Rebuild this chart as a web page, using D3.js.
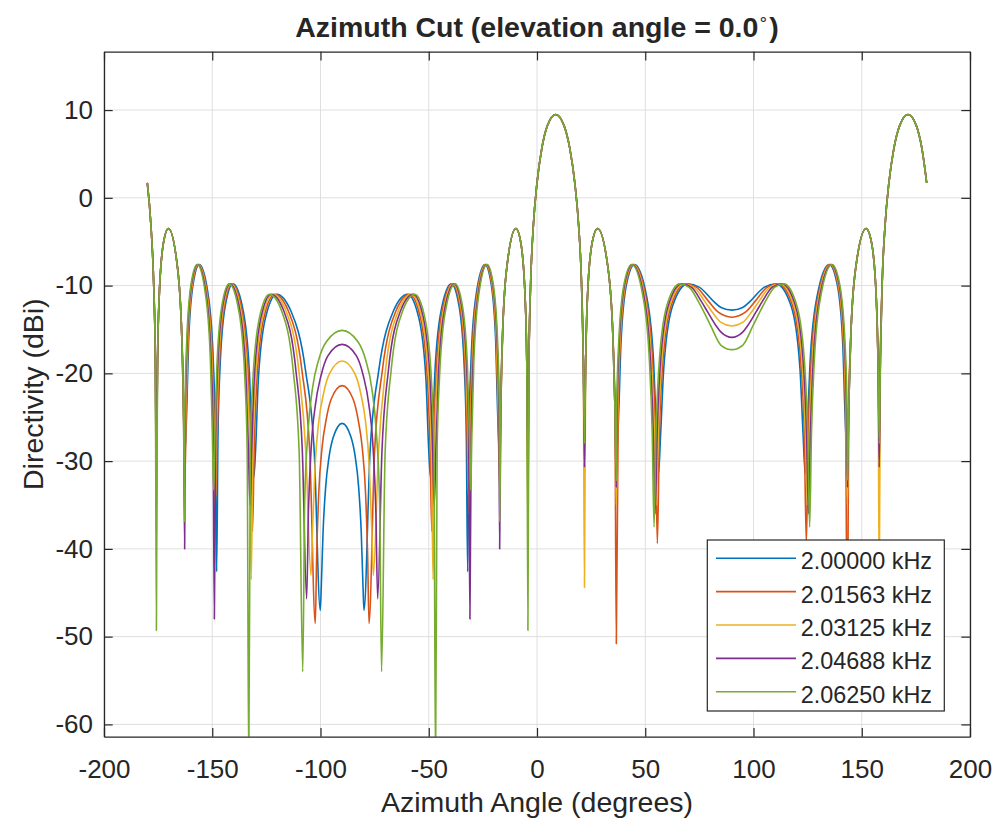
<!DOCTYPE html>
<html>
<head>
<meta charset="utf-8">
<script src="https://cdn.jsdelivr.net/npm/d3@7"></script>
<style>
  body { margin: 0; background: #fff; }
  svg { display: block; }
  text { font-family: "Liberation Sans", Arial, Helvetica, sans-serif; fill: #262626; }
</style>
</head>
<body>
<svg id="chart" width="996" height="822"></svg>
<script>
// ---------------- data ----------------
const frequencies = ["2.00000 kHz", "2.01563 kHz", "2.03125 kHz", "2.04688 kHz", "2.06250 kHz"];
const seriesColors = ["#0072BD", "#D95319", "#EDB120", "#7E2F8E", "#77AC30"];

const xTicks = [-200, -150, -100, -50, 0, 50, 100, 150, 200];
const yTicks = [-60, -50, -40, -30, -20, -10, 0, 10];

// [azimuth deg, directivity dBi] where all five frequencies coincide
const sharedPoints = [
  [-180, 1.7], [-178.36, -3.0], [-177.08, -9.6], [-176.31, -18.0], [-175.28, -18.7], [-174.51, -11.3],
  [-172.58, -5.2], [-170.25, -3.5], [-166.07, -7.9], [-164.08, -15.7], [-163.28, -23.8],
  [-16.72, -23.8], [-15.92, -15.7], [-13.93, -7.9], [-9.75, -3.5], [-7.42, -5.2], [-5.49, -11.3],
  [-4.72, -18.7], [-3.69, -18.0], [-2.92, -9.6], [-1.64, -3.0], [0, 1.7], [2.20, 5.6], [4.76, 8.2],
  [8.63, 9.5], [12.53, 8.2], [15.17, 5.6], [17.46, 1.7], [19.19, -3.0], [20.55, -9.6], [21.37, -18.0],
  [22.47, -18.7], [23.31, -11.3], [25.41, -5.2], [27.99, -3.5], [32.74, -7.9], [35.05, -15.7], [35.99, -23.8],
  [144.01, -23.8], [144.95, -15.7], [147.26, -7.9], [152.01, -3.5], [154.59, -5.2], [156.69, -11.3],
  [157.53, -18.7], [158.63, -18.0], [159.45, -9.6], [160.81, -3.0], [162.54, 1.7], [164.83, 5.6],
  [167.47, 8.2], [171.37, 9.5], [175.24, 8.2], [177.80, 5.6], [180, 1.7]
];

// shared null positions, with each frequency's own null depth
const sharedNullAz = [-175.80, -162.75, -17.25, -4.20, 21.92, 36.63, 143.37, 158.08];
const nullDepth2000 = [-35, -29.6, -29.6, -35, -27, -30, -30, -27];
const nullDepth2016 = [-32, -33, -33, -32, -25, -50.8, -50.8, -25];
const nullDepth2031 = [-38, -31, -31, -38, -44.4, -35, -35, -44.4];
const nullDepth2047 = [-30, -40, -40, -30, -30.7, -33, -33, -30.7];
const nullDepth2063 = [-49.3, -36.9, -36.9, -49.3, -28, -32.2, -32.2, -28];

// per-frequency points between -163 and -17 deg
const left2000 = [[-161.78,-24.2],[-160.96,-16.6],[-158.88,-9.9],[-155.93,-7.6],[-151.73,-11.3],[-149.49,-18.8],[-148.58,-26.8],[-147.97,-42.6],[-147.35,-27.1],[-146.42,-19.4],[-144.05,-12.4],[-140.43,-9.8],[-135.53,-13.1],[-132.73,-20.5],[-131.57,-28.4],[-130.78,-31.8],[-129.98,-28.7],[-128.75,-20.9],[-125.52,-13.8],[-120.25,-11.0],[-113.67,-12.9],[-106.90,-19.7],[-102.86,-29.1],[-100.1,-47.0],[-99.6,-44.0],[-98.8,-38.0],[-97.6,-32.9],[-96.1,-29.6],[-94.0,-27.2],[-90,-25.7],[-86.0,-27.2],[-83.9,-29.6],[-82.4,-32.9],[-81.2,-38.0],[-80.4,-44.0],[-79.9,-47.0],[-77.14,-29.1],[-73.10,-19.7],[-66.33,-12.9],[-59.75,-11.0],[-54.48,-13.8],[-51.25,-20.9],[-50.02,-28.7],[-49.22,-31.8],[-48.43,-28.4],[-47.27,-20.5],[-44.47,-13.1],[-39.57,-9.8],[-35.95,-12.4],[-33.58,-19.4],[-32.65,-27.1],[-32.03,-42.6],[-31.42,-26.8],[-30.51,-18.8],[-28.27,-11.3],[-24.07,-7.6],[-21.12,-9.9],[-19.04,-16.6],[-18.22,-24.2]];
const left2016 = [[-162.00,-24.2],[-161.19,-16.6],[-159.13,-9.9],[-156.20,-7.6],[-152.05,-11.3],[-149.83,-18.8],[-148.94,-26.8],[-148.33,-34.0],[-147.72,-27.1],[-146.80,-19.4],[-144.46,-12.4],[-140.90,-9.8],[-136.07,-13.1],[-133.32,-20.5],[-132.18,-28.4],[-131.41,-38.0],[-130.62,-28.7],[-129.42,-20.9],[-126.27,-13.8],[-121.16,-11.0],[-114.83,-12.9],[-108.55,-19.7],[-104.94,-29.1],[-102.4,-48.5],[-101.8,-41.0],[-100.8,-33.6],[-99.3,-28.5],[-97.4,-25.3],[-95.0,-22.9],[-90,-21.4],[-85.0,-22.9],[-82.6,-25.3],[-80.7,-28.5],[-79.2,-33.6],[-78.2,-41.0],[-77.6,-48.5],[-75.06,-29.1],[-71.45,-19.7],[-65.17,-12.9],[-58.84,-11.0],[-53.73,-13.8],[-50.58,-20.9],[-49.38,-28.7],[-48.59,-38.0],[-47.82,-28.4],[-46.68,-20.5],[-43.93,-13.1],[-39.10,-9.8],[-35.54,-12.4],[-33.20,-19.4],[-32.28,-27.1],[-31.67,-34.0],[-31.06,-26.8],[-30.17,-18.8],[-27.95,-11.3],[-23.80,-7.6],[-20.87,-9.9],[-18.81,-16.6],[-18.00,-24.2]];
const left2031 = [[-162.21,-24.2],[-161.40,-16.6],[-159.37,-9.9],[-156.47,-7.6],[-152.35,-11.3],[-150.16,-18.8],[-149.27,-26.8],[-148.67,-36.0],[-148.07,-27.1],[-147.16,-19.4],[-144.85,-12.4],[-141.33,-9.8],[-136.58,-13.1],[-133.87,-20.5],[-132.75,-28.4],[-132.00,-43.5],[-131.23,-28.7],[-130.05,-20.9],[-126.96,-13.8],[-121.97,-11.0],[-115.91,-12.9],[-110.00,-19.7],[-106.75,-29.1],[-104.4,-43.0],[-103.7,-38.0],[-102.5,-30.5],[-100.8,-25.5],[-98.6,-22.3],[-95.8,-20.0],[-90,-18.6],[-84.2,-20.0],[-81.4,-22.3],[-79.2,-25.5],[-77.5,-30.5],[-76.3,-38.0],[-75.6,-43.0],[-73.25,-29.1],[-70.00,-19.7],[-64.09,-12.9],[-58.03,-11.0],[-53.04,-13.8],[-49.95,-20.9],[-48.77,-28.7],[-48.00,-43.5],[-47.25,-28.4],[-46.13,-20.5],[-43.42,-13.1],[-38.67,-9.8],[-35.15,-12.4],[-32.84,-19.4],[-31.93,-27.1],[-31.33,-36.0],[-30.73,-26.8],[-29.84,-18.8],[-27.65,-11.3],[-23.53,-7.6],[-20.63,-9.9],[-18.60,-16.6],[-17.79,-24.2]];
const left2047 = [[-162.42,-24.2],[-161.62,-16.6],[-159.60,-9.9],[-156.73,-7.6],[-152.65,-11.3],[-150.49,-18.8],[-149.61,-26.8],[-149.02,-48.0],[-148.42,-27.1],[-147.52,-19.4],[-145.24,-12.4],[-141.76,-9.8],[-137.08,-13.1],[-134.42,-20.5],[-133.33,-28.4],[-132.57,-35.0],[-131.82,-28.7],[-130.66,-20.9],[-127.65,-13.8],[-122.81,-11.0],[-116.94,-12.9],[-111.35,-19.7],[-108.35,-29.1],[-106.4,-45.7],[-105.6,-36.0],[-104.3,-28.5],[-102.3,-23.5],[-99.8,-20.3],[-96.6,-18.0],[-90,-16.7],[-83.4,-18.0],[-80.2,-20.3],[-77.7,-23.5],[-75.7,-28.5],[-74.4,-36.0],[-73.6,-45.7],[-71.65,-29.1],[-68.65,-19.7],[-63.06,-12.9],[-57.19,-11.0],[-52.35,-13.8],[-49.34,-20.9],[-48.18,-28.7],[-47.43,-35.0],[-46.67,-28.4],[-45.58,-20.5],[-42.92,-13.1],[-38.24,-9.8],[-34.76,-12.4],[-32.48,-19.4],[-31.58,-27.1],[-30.98,-48.0],[-30.39,-26.8],[-29.51,-18.8],[-27.35,-11.3],[-23.27,-7.6],[-20.40,-9.9],[-18.38,-16.6],[-17.58,-24.2]];
const left2063 = [[-162.63,-24.2],[-161.83,-16.6],[-159.83,-9.9],[-156.99,-7.6],[-152.95,-11.3],[-150.81,-18.8],[-149.94,-26.8],[-149.36,-33.3],[-148.77,-27.1],[-147.88,-19.4],[-145.62,-12.4],[-142.19,-9.8],[-137.57,-13.1],[-134.96,-20.5],[-133.88,-28.4],[-133.14,-65.0],[-132.40,-28.7],[-131.27,-20.9],[-128.31,-13.8],[-123.60,-11.0],[-117.93,-12.9],[-112.61,-19.7],[-109.84,-29.1],[-108.2,-54.0],[-107.3,-34.6],[-105.8,-26.7],[-103.7,-21.7],[-100.9,-18.5],[-97.3,-16.4],[-90,-15.1],[-82.7,-16.4],[-79.1,-18.5],[-76.3,-21.7],[-74.2,-26.7],[-72.7,-34.6],[-71.8,-54.0],[-70.16,-29.1],[-67.39,-19.7],[-62.07,-12.9],[-56.40,-11.0],[-51.69,-13.8],[-48.73,-20.9],[-47.60,-28.7],[-46.86,-65.0],[-46.12,-28.4],[-45.04,-20.5],[-42.43,-13.1],[-37.81,-9.8],[-34.38,-12.4],[-32.12,-19.4],[-31.23,-27.1],[-30.64,-33.3],[-30.06,-26.8],[-29.19,-18.8],[-27.05,-11.3],[-23.01,-7.6],[-20.17,-9.9],[-18.17,-16.6],[-17.37,-24.2]];

// per-frequency points between 37 and 143 deg
const right2000 = [[37.78,-24.2],[38.78,-16.6],[41.32,-9.9],[45.07,-7.6],[50.69,-11.3],[53.88,-18.8],[55.22,-26.8],[56.13,-31.4],[57.07,-27.1],[58.55,-19.4],[62.51,-12.4],[69.56,-9.8],[75.12,-10.2],[81.56,-11.8],[85,-12.5],[90,-12.8],[95,-12.5],[98.44,-11.8],[104.88,-10.2],[110.44,-9.8],[117.49,-12.4],[121.45,-19.4],[122.93,-27.1],[123.87,-31.4],[124.78,-26.8],[126.12,-18.8],[129.31,-11.3],[134.93,-7.6],[138.68,-9.9],[141.22,-16.6],[142.22,-24.2]];
const right2016 = [[37.52,-24.2],[38.50,-16.6],[41.01,-9.9],[44.71,-7.6],[50.25,-11.3],[53.37,-18.8],[54.69,-26.8],[55.59,-39.4],[56.52,-27.1],[57.94,-19.4],[61.79,-12.4],[68.55,-9.8],[73.74,-10.2],[79.27,-11.8],[83.59,-13.0],[90,-13.6],[96.41,-13.0],[100.73,-11.8],[106.26,-10.2],[111.45,-9.8],[118.21,-12.4],[122.06,-19.4],[123.48,-27.1],[124.41,-39.4],[125.31,-26.8],[126.63,-18.8],[129.75,-11.3],[135.29,-7.6],[138.99,-9.9],[141.50,-16.6],[142.48,-24.2]];
const right2031 = [[37.27,-24.2],[38.24,-16.6],[40.72,-9.9],[44.37,-7.6],[49.82,-11.3],[52.90,-18.8],[54.19,-26.8],[55.08,-35.0],[55.98,-27.1],[57.37,-19.4],[61.13,-12.4],[67.66,-9.8],[72.53,-10.2],[77.48,-11.8],[80.89,-13.0],[85,-14.2],[90,-14.6],[95,-14.2],[99.11,-13.0],[102.52,-11.8],[107.47,-10.2],[112.34,-9.8],[118.87,-12.4],[122.63,-19.4],[124.02,-27.1],[124.92,-35.0],[125.81,-26.8],[127.10,-18.8],[130.18,-11.3],[135.63,-7.6],[139.28,-9.9],[141.76,-16.6],[142.73,-24.2]];
const right2047 = [[37.02,-24.2],[37.98,-16.6],[40.44,-9.9],[44.03,-7.6],[49.41,-11.3],[52.43,-18.8],[53.70,-26.8],[54.56,-36.0],[55.45,-27.1],[56.82,-19.4],[60.48,-12.4],[66.78,-9.8],[71.40,-10.2],[75.91,-11.8],[78.81,-13.0],[82.79,-14.6],[85,-15.3],[90,-15.9],[95,-15.3],[97.21,-14.6],[101.19,-13.0],[104.09,-11.8],[108.60,-10.2],[113.22,-9.8],[119.52,-12.4],[123.18,-19.4],[124.55,-27.1],[125.44,-36.0],[126.30,-26.8],[127.57,-18.8],[130.59,-11.3],[135.97,-7.6],[139.56,-9.9],[142.02,-16.6],[142.98,-24.2]];
const right2063 = [[36.77,-24.2],[37.72,-16.6],[40.15,-9.9],[43.70,-7.6],[49.00,-11.3],[51.97,-18.8],[53.22,-26.8],[54.07,-37.5],[54.93,-27.1],[56.27,-19.4],[59.84,-12.4],[65.93,-9.8],[70.31,-10.2],[74.50,-11.8],[77.07,-13.0],[80.27,-14.6],[85,-16.8],[90,-17.3],[95,-16.8],[99.73,-14.6],[102.93,-13.0],[105.50,-11.8],[109.69,-10.2],[114.07,-9.8],[120.16,-12.4],[123.73,-19.4],[125.07,-27.1],[125.93,-37.5],[126.78,-26.8],[128.03,-18.8],[131.00,-11.3],[136.30,-7.6],[139.85,-9.9],[142.28,-16.6],[143.23,-24.2]];

const nullDepths = [nullDepth2000, nullDepth2016, nullDepth2031, nullDepth2047, nullDepth2063];
const leftPoints = [left2000, left2016, left2031, left2047, left2063];
const rightPoints = [right2000, right2016, right2031, right2047, right2063];

// ---------------- layout ----------------
const W = 996, H = 822;
const plot = { left: 104, right: 970, top: 51.7, bottom: 736.7 };
const tickLen = 8.7;
const axisColor = "#262626";

const x = d3.scaleLinear().domain([-200, 200]).range([plot.left, plot.right]);
const y = d3.scaleLinear().domain([-61.4, 16.65]).range([plot.bottom, plot.top]);

const svg = d3.select("#chart");
svg.append("rect").attr("width", W).attr("height", H).attr("fill", "#fff");

svg.append("defs").append("clipPath").attr("id", "plotClip")
  .append("rect").attr("x", plot.left).attr("y", plot.top)
  .attr("width", plot.right - plot.left).attr("height", plot.bottom - plot.top);

// grid
const grid = svg.append("g").attr("stroke", "#dfdfdf").attr("stroke-width", 1);
grid.selectAll(".gx").data(xTicks).join("line")
  .attr("x1", d => x(d)).attr("x2", d => x(d)).attr("y1", plot.top).attr("y2", plot.bottom);
grid.selectAll(".gy").data(yTicks).join("line")
  .attr("x1", plot.left).attr("x2", plot.right).attr("y1", d => y(d)).attr("y2", d => y(d));

// series
const series = frequencies.map((f, i) => {
  const pts = sharedPoints.map(p => [p[0], p[1]])
    .concat(sharedNullAz.map((a, k) => [a, nullDepths[i][k]]))
    .concat(leftPoints[i]).concat(rightPoints[i]);
  pts.sort((a, b) => a[0] - b[0]);
  return { label: f, color: seriesColors[i], points: pts };
});

const line = d3.line().x(d => x(d[0])).y(d => y(d[1])).curve(d3.curveMonotoneX);
svg.append("g").attr("clip-path", "url(#plotClip)")
  .selectAll("path").data(series).join("path")
  .attr("d", d => line(d.points))
  .attr("fill", "none")
  .attr("stroke", d => d.color)
  .attr("stroke-width", 1.6)
  .attr("stroke-linejoin", "round");

// axes
const fmt = d => (d < 0 ? "-" + Math.abs(d) : String(d));
const tickFont = 26;

const gx = svg.append("g").attr("transform", `translate(0,${plot.bottom})`)
  .call(d3.axisBottom(x).tickValues(xTicks).tickFormat(fmt).tickSize(-tickLen).tickSizeOuter(0).tickPadding(22.5));
const gy = svg.append("g").attr("transform", `translate(${plot.left},0)`)
  .call(d3.axisLeft(y).tickValues(yTicks).tickFormat(fmt).tickSize(-tickLen).tickSizeOuter(0).tickPadding(11));
const gt = svg.append("g").attr("transform", `translate(0,${plot.top})`)
  .call(d3.axisTop(x).tickValues(xTicks).tickFormat("").tickSize(-tickLen).tickSizeOuter(0));
const gr = svg.append("g").attr("transform", `translate(${plot.right},0)`)
  .call(d3.axisRight(y).tickValues(yTicks).tickFormat("").tickSize(-tickLen).tickSizeOuter(0));

[gx, gy, gt, gr].forEach(g => {
  g.select(".domain").attr("stroke", axisColor).attr("stroke-width", 1.3);
  g.selectAll(".tick line").attr("stroke", axisColor).attr("stroke-width", 1.2);
  g.selectAll(".tick text").attr("fill", axisColor)
    .style("font-size", tickFont + "px")
    .style("font-family", '"Liberation Sans", Arial, Helvetica, sans-serif');
});

// labels
svg.append("text").attr("x", (plot.left + plot.right) / 2).attr("y", 812)
  .attr("text-anchor", "middle").style("font-size", "28.5px")
  .text("Azimuth Angle (degrees)");

svg.append("text")
  .attr("transform", `translate(43,${(plot.top + plot.bottom) / 2}) rotate(-90)`)
  .attr("text-anchor", "middle").style("font-size", "28.5px")
  .text("Directivity (dBi)");

const title = svg.append("text").attr("x", (plot.left + plot.right) / 2).attr("y", 37)
  .attr("text-anchor", "middle").style("font-size", "28.5px").style("font-weight", "bold")
  .attr("fill", "#000");
title.append("tspan").text("Azimuth Cut (elevation angle = 0.0");
title.append("tspan").attr("dy", -13).style("font-size", "17px").style("font-weight", "normal").text("\u2218");
title.append("tspan").attr("dy", 13).text(")");

// legend
const lg = { x: 707.3, y: 540, w: 237, h: 171 };
const legend = svg.append("g");
legend.append("rect").attr("x", lg.x).attr("y", lg.y).attr("width", lg.w).attr("height", lg.h)
  .attr("fill", "#fff").attr("stroke", axisColor).attr("stroke-width", 1.2);
const items = legend.selectAll("g.item").data(series).join("g")
  .attr("transform", (d, i) => `translate(0,${558.3 + i * 33.35})`);
items.append("line").attr("x1", 716).attr("x2", 796).attr("y1", 0).attr("y2", 0)
  .attr("stroke", d => d.color).attr("stroke-width", 1.6);
items.append("text").attr("x", 800.7).attr("y", 11).style("font-size", "23.4px")
  .attr("fill", "#000").text(d => d.label);
</script>
</body>
</html>
